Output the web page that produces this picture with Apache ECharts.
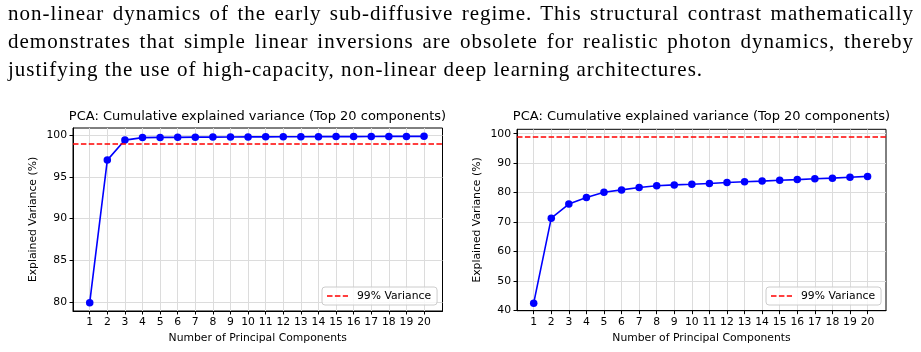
<!DOCTYPE html>
<html>
<head>
<meta charset="utf-8">
<script src="https://cdn.jsdelivr.net/npm/echarts@6/dist/echarts.min.js"></script>
<style>
  body { margin: 0; background: #fff; }
  #text { position: absolute; left: 8px; top: 0px; width: 906px; font-family: "Liberation Serif"; font-size: 21px; line-height: 27.8px; color: #000; letter-spacing: 1px; }
  .j { text-align: justify; text-align-last: justify; }
  #chart { position: absolute; left: 0; top: 0; width: 921px; height: 352px; }
</style>
</head>
<body>
<div id="chart"></div>
<div id="text">
  <div class="j">non-linear dynamics of the early sub-diffusive regime. This structural contrast mathematically</div>
  <div class="j">demonstrates that simple linear inversions are obsolete for realistic photon dynamics, thereby</div>
  <div>justifying the use of high-capacity, non-linear deep learning architectures.</div>
</div>
<script>
// data
const components = [1, 2, 3, 4, 5, 6, 7, 8, 9, 10, 11, 12, 13, 14, 15, 16, 17, 18, 19, 20];
const leftVariance = [79.9, 97.0, 99.4, 99.7, 99.72, 99.73, 99.75, 99.76, 99.77, 99.78,
                      99.79, 99.8, 99.8, 99.81, 99.82, 99.82, 99.83, 99.84, 99.84, 99.85];
const rightVariance = [42.4, 71.3, 76.1, 78.3, 80.1, 80.9, 81.7, 82.3, 82.6, 82.8,
                       83.1, 83.4, 83.7, 83.9, 84.2, 84.4, 84.7, 84.9, 85.2, 85.5];
const leftTicks = [80, 85, 90, 95, 100];
const rightTicks = [40, 50, 60, 70, 80, 90, 100];
const threshold = 99;
const titleText = 'PCA: Cumulative explained variance (Top 20 components)';
const thresholdName = '99% Variance';

const font = 'DejaVu Sans';
const dash = [5.5, 2.4];
// dashed legend key, three red dashes
const dashIcon = 'path://M0,0h5.5v1.6h-5.5z M7.9,0h5.5v1.6h-5.5z M15.8,0h5.2v1.6h-5.2z';
const chart = echarts.init(document.getElementById('chart'), null, { renderer: 'canvas' });

function xAxis(idx) {
  return {
    type: 'value', gridIndex: idx, min: 0.05, max: 21.05,
    name: 'Number of Principal Components', nameLocation: 'middle', nameGap: 22,
    nameTextStyle: { fontFamily: font, fontSize: 10.8, color: '#000' },
    axisLine: { show: true, onZero: false, lineStyle: { color: '#000', width: 1 } },
    axisTick: { show: true, length: 3.5, customValues: components, lineStyle: { color: '#000' } },
    axisLabel: { customValues: components, margin: 6, fontFamily: font, fontSize: 10.8, color: '#000' },
    splitLine: { show: true, lineStyle: { color: '#dcdcdc', width: 1 } }
  };
}
function yAxis(idx, min, max, ticks) {
  return {
    type: 'value', gridIndex: idx, min: min, max: max,
    name: 'Explained Variance (%)', nameLocation: 'middle', nameGap: 34,
    nameTextStyle: { fontFamily: font, fontSize: 10.8, color: '#000' },
    axisLine: { show: true, onZero: false, lineStyle: { color: '#000', width: 1 } },
    axisTick: { show: true, length: 3.5, customValues: ticks, lineStyle: { color: '#000' } },
    axisLabel: { customValues: ticks, margin: 6, fontFamily: font, fontSize: 10.8, color: '#000' },
    splitLine: { show: true, lineStyle: { color: '#dcdcdc', width: 1 } }
  };
}
function curve(idx, values) {
  return {
    type: 'line', name: 'variance' + idx, xAxisIndex: idx, yAxisIndex: idx,
    data: components.map((c, i) => [c, values[i]]),
    symbol: 'circle', symbolSize: 7.5, color: '#0000ff',
    lineStyle: { color: '#0000ff', width: 1.6 },
    itemStyle: { color: '#0000ff' }, z: 3
  };
}
function thresholdLine(idx) {
  return {
    type: 'line', name: thresholdName, xAxisIndex: idx, yAxisIndex: idx,
    data: [], symbol: 'none', color: '#ff0000',
    lineStyle: { color: '#ff0000', width: 1.5, type: dash },
    markLine: {
      silent: true, symbol: ['none', 'none'], label: { show: false },
      lineStyle: { color: '#ff0000', width: 1.5, type: dash },
      data: [{ yAxis: threshold }]
    }, z: 4
  };
}
function legend(left) {
  return {
    data: [{ name: thresholdName, icon: dashIcon }], left: left, top: 287, orient: 'vertical',
    padding: [3, 6, 3, 5], itemWidth: 21, itemHeight: 1.6,
    itemStyle: { color: '#ff0000', borderWidth: 0 },
    backgroundColor: 'rgba(255,255,255,0.8)', borderColor: '#cccccc', borderWidth: 1, borderRadius: 3,
    textStyle: { fontFamily: font, fontSize: 10.8, color: '#000', padding: [0, 0, 0, 4], lineHeight: 12 }
  };
}
function title(center) {
  return {
    text: titleText, left: center, top: 110, textAlign: 'center', padding: 0,
    textStyle: { fontFamily: font, fontSize: 13, fontWeight: 'normal', color: '#000' }
  };
}

chart.setOption({
  animation: false,
  title: [title(257.5), title(701.5)],
  legend: [legend(322), legend(766)],
  grid: [
    { left: 73, top: 128, width: 369.5, height: 183, show: true, borderColor: '#000', borderWidth: 1 },
    { left: 517, top: 129.3, width: 369, height: 181.4, show: true, borderColor: '#000', borderWidth: 1 }
  ],
  xAxis: [xAxis(0), xAxis(1)],
  yAxis: [yAxis(0, 78.9, 100.85, leftTicks), yAxis(1, 39.85, 101.5, rightTicks)],
  series: [curve(0, leftVariance), thresholdLine(0), curve(1, rightVariance), thresholdLine(1)]
});
</script>
</body>
</html>
